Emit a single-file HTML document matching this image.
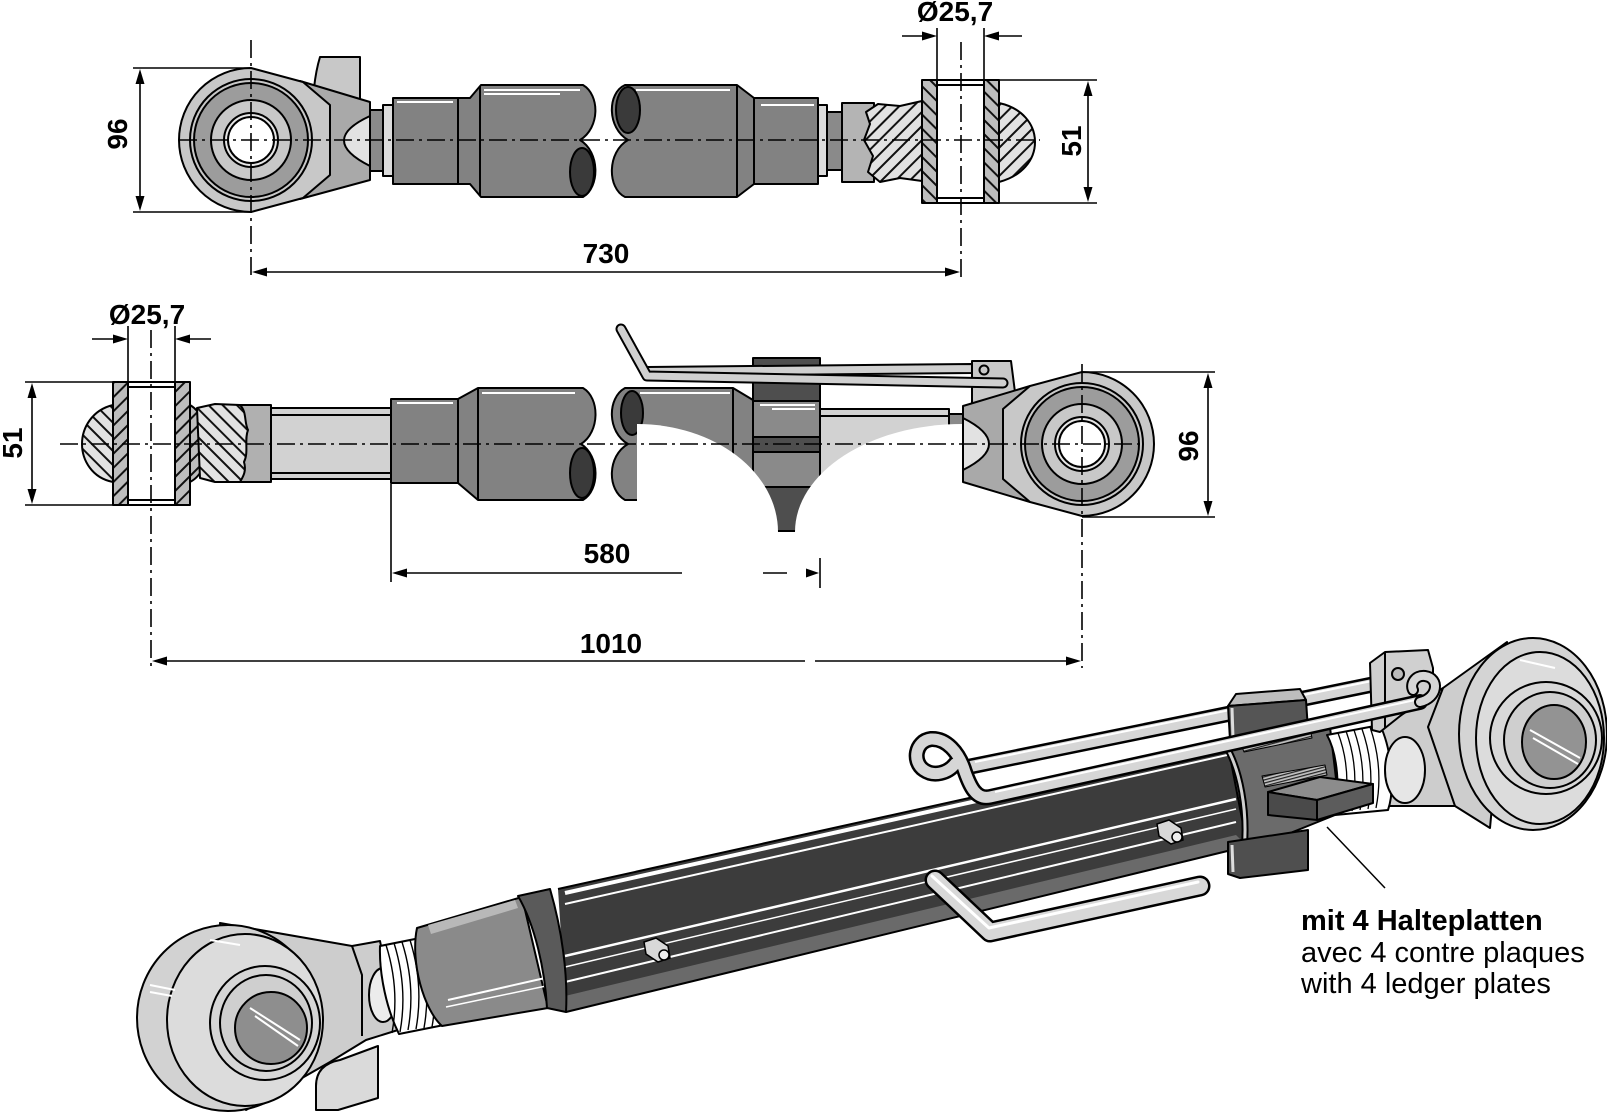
<!DOCTYPE html>
<html><head><meta charset="utf-8"><title>Oberlenker</title>
<style>
html,body{margin:0;padding:0;background:#fff;width:1607px;height:1112px;overflow:hidden}
svg{display:block}
</style></head><body>
<svg xmlns="http://www.w3.org/2000/svg" width="1607" height="1112" viewBox="0 0 1607 1112" font-family="'Liberation Sans', Arial, sans-serif">
<defs>
<pattern id="hb" patternUnits="userSpaceOnUse" width="10" height="10" patternTransform="rotate(-45)"><rect width="10" height="10" fill="#bdbdbd"/><rect width="2" height="10" fill="#111"/></pattern>
<pattern id="hf" patternUnits="userSpaceOnUse" width="10" height="10" patternTransform="rotate(45)"><rect width="10" height="10" fill="#bdbdbd"/><rect width="2" height="10" fill="#111"/></pattern>
<pattern id="hbl" patternUnits="userSpaceOnUse" width="10" height="10" patternTransform="rotate(-45)"><rect width="10" height="10" fill="#e2e2e2"/><rect width="2" height="10" fill="#111"/></pattern>
<pattern id="hfl" patternUnits="userSpaceOnUse" width="10" height="10" patternTransform="rotate(45)"><rect width="10" height="10" fill="#e2e2e2"/><rect width="2" height="10" fill="#111"/></pattern>
<pattern id="hs" patternUnits="userSpaceOnUse" width="3" height="3" patternTransform="rotate(75)"><rect width="3" height="3" fill="#c0c0c0"/><rect width="1.2" height="3" fill="#222"/></pattern>
</defs>
<rect width="1607" height="1112" fill="#fff"/>

<!-- ================= TOP VIEW ================= -->
<g stroke="#000" stroke-width="2" stroke-linejoin="round">
  <path d="M320,57 L360,57 L360,102 L314,88 Q316,70 320,57 Z" fill="#c8c8c8"/>
  <path d="M300,81 L370,102 L370,180 L300,199 Z" fill="#a9a9a9"/>
  <path d="M251,68 L303,82 L330,105 L330,175 L303,198 L251,212 A72,72 0 0 1 251,68 Z" fill="#c8c8c8"/>
  <path d="M370,116 Q318,140 370,166 Z" fill="#e2e2e2"/>
  <circle cx="251" cy="140" r="61" fill="#c8c8c8"/>
  <circle cx="251" cy="140" r="57" fill="#9c9c9c"/>
  <circle cx="251" cy="140" r="40" fill="#c8c8c8"/>
  <circle cx="251" cy="140" r="27" fill="#e6e6e6"/>
  <circle cx="251" cy="140" r="23" fill="#fff"/>
  <rect x="370" y="110" width="13" height="61" fill="#8a8a8a"/>
  <rect x="383" y="105" width="10" height="71" fill="#dcdcdc"/>
  <path d="M393,98 L470,98 L481,85 L583,85 C600,95 600,128 580,140 C600,152 600,187 583,197 L481,197 L470,184 L393,184 Z" fill="#828282"/>
  <ellipse cx="582" cy="172" rx="12" ry="24" fill="#3a3a3a"/>
  <line x1="458" y1="98" x2="458" y2="184"/>
  <line x1="480" y1="86" x2="480" y2="196"/>
  <path d="M625,85 L737,85 L754,98 L818,98 L818,184 L754,184 L737,197 L625,197 C607,188 607,152 628,140 C607,128 607,93 625,85 Z" fill="#828282"/>
  <ellipse cx="628" cy="110" rx="12" ry="23" fill="#3a3a3a"/>
  <line x1="737" y1="86" x2="737" y2="196"/>
  <line x1="754" y1="98" x2="754" y2="184"/>
  <rect x="818" y="105" width="9" height="71" fill="#dcdcdc"/>
  <rect x="827" y="112" width="15" height="58" fill="#8a8a8a"/>
  <rect x="842" y="103" width="32" height="79" fill="#b4b4b4"/>
  <path d="M866,112 L878,104 L900,106 L922,101 L922,181 L900,178 L880,182 L868,172 L873,156 L864,140 L870,124 Z" fill="url(#hfl)"/>
  <path d="M999,103 C1022,108 1035,124 1035,142 C1035,160 1022,176 999,182 Z" fill="url(#hfl)"/>
  <rect x="922" y="80" width="77" height="123" fill="url(#hb)"/>
  <rect x="937" y="80" width="47" height="123" fill="#fff"/>
  <line x1="937" y1="85" x2="984" y2="85"/>
  <line x1="937" y1="198" x2="984" y2="198"/>
</g>
<g stroke="#fff" stroke-width="2">
  <line x1="397" y1="102" x2="453" y2="102"/>
  <line x1="484" y1="90" x2="580" y2="90"/>
  <line x1="484" y1="94" x2="560" y2="94"/>
  <line x1="636" y1="90" x2="730" y2="90"/>
  <line x1="761" y1="105" x2="814" y2="105"/>
</g>
<!-- top dims -->
<g stroke="#000" stroke-width="1.6" fill="none">
  <line x1="133" y1="68" x2="251" y2="68"/>
  <line x1="133" y1="212" x2="251" y2="212"/>
  <line x1="140" y1="80" x2="140" y2="200"/>
  <line x1="999" y1="80" x2="1097" y2="80"/>
  <line x1="999" y1="203" x2="1097" y2="203"/>
  <line x1="1088" y1="92" x2="1088" y2="192"/>
  <line x1="937" y1="28" x2="937" y2="80"/>
  <line x1="984" y1="28" x2="984" y2="80"/>
  <line x1="902" y1="36" x2="925" y2="36"/>
  <line x1="1022" y1="36" x2="996" y2="36"/>
  <line x1="262" y1="272" x2="950" y2="272"/>
  <g stroke-dasharray="18 5 3 5">
    <line x1="179" y1="140" x2="1040" y2="140"/>
    <line x1="251" y1="40" x2="251" y2="280"/>
    <line x1="961" y1="42" x2="961" y2="282"/>
  </g>
</g>
<g fill="#000">
  <polygon points="140,69 135.5,84 144.5,84"/>
  <polygon points="140,211 135.5,196 144.5,196"/>
  <polygon points="1088,81 1083.5,96 1092.5,96"/>
  <polygon points="1088,202 1083.5,187 1092.5,187"/>
  <polygon points="937,36 922,31.5 922,40.5"/>
  <polygon points="984,36 999,31.5 999,40.5"/>
  <polygon points="252,272 267,267.5 267,276.5"/>
  <polygon points="960,272 945,267.5 945,276.5"/>
</g>
<g font-weight="bold" font-size="28" fill="#000" text-anchor="middle">
  <text x="955" y="21">Ø25,7</text>
  <text x="606" y="263">730</text>
  <text transform="translate(127,134) rotate(-90)">96</text>
  <text transform="translate(1081,141) rotate(-90)">51</text>
</g>

<!-- ================= MIDDLE VIEW ================= -->
<g stroke="#000" stroke-width="2" stroke-linejoin="round">
  <path d="M113,405 C92,410 82,428 82,444 C82,460 92,478 113,482 Z" fill="url(#hbl)"/>
  <path d="M190,405 C202,412 208,428 208,444 C208,460 202,476 190,482 Z" fill="url(#hf)"/>
  <rect x="240" y="405" width="31" height="77" fill="#b0b0b0"/>
  <path d="M197,408 L215,404 L240,405 C247,412 244,422 248,430 C244,440 249,452 244,462 C247,472 242,478 240,482 L215,482 L200,478 Z" fill="url(#hbl)"/>
  <rect x="113" y="382" width="77" height="123" fill="url(#hf)"/>
  <rect x="128" y="382" width="47" height="123" fill="#fff"/>
  <line x1="128" y1="387" x2="175" y2="387"/>
  <line x1="128" y1="500" x2="175" y2="500"/>
  <rect x="271" y="408" width="121" height="71" fill="#d2d2d2"/>
  <line x1="271" y1="415" x2="392" y2="415"/>
  <line x1="271" y1="473" x2="392" y2="473"/>
  <path d="M391,399 L458,399 L478,388 L583,388 C600,398 600,432 581,444 C600,456 600,490 583,500 L478,500 L458,483 L391,483 Z" fill="#828282"/>
  <ellipse cx="582" cy="473" rx="12" ry="25" fill="#3a3a3a"/>
  <line x1="458" y1="399" x2="458" y2="483"/>
  <line x1="478" y1="389" x2="478" y2="499"/>
  <path d="M625,388 L733,388 L753,400 L800,400 L800,484 L753,484 L733,500 L625,500 C607,490 607,456 628,444 C607,432 607,398 625,388 Z" fill="#828282"/>
  <ellipse cx="632" cy="413" rx="11" ry="22" fill="#3a3a3a"/>
  <line x1="733" y1="389" x2="733" y2="499"/>
  <rect x="820" y="409" width="129" height="70" fill="#d2d2d2"/>
  <line x1="820" y1="416" x2="949" y2="416"/>
  <rect x="949" y="414" width="14" height="60" fill="#8a8a8a"/>
  <rect x="753" y="358" width="67" height="43" fill="#4e4e4e"/>
  <rect x="753" y="401" width="67" height="36" fill="#8a8a8a"/>
  <rect x="753" y="437" width="67" height="15" fill="#4e4e4e"/>
  <rect x="753" y="452" width="67" height="35" fill="#8a8a8a"/>
  <rect x="753" y="487" width="67" height="44" fill="#4e4e4e"/>
</g>
<g stroke="#fff" stroke-width="2">
  <line x1="397" y1="403" x2="453" y2="403"/>
  <line x1="482" y1="393" x2="575" y2="393"/>
  <line x1="640" y1="393" x2="730" y2="393"/>
  <line x1="760" y1="405" x2="815" y2="405"/>
  <line x1="772" y1="409" x2="815" y2="409"/>
</g>
<path d="M637,424 A141,108 0 0 1 778,532 L778,548 L637,548 Z" fill="#fff"/>
<path d="M962,424 A167,108 0 0 0 795,532 L795,548 L962,548 Z" fill="#fff"/>
<g stroke="#000" stroke-width="2" stroke-linejoin="round">
  <polygon points="648,367 972,364 972,373 648,376" fill="#d0d0d0"/>
  <path d="M972,361 L1011,361 L1016,400 L972,410 Z" fill="#c8c8c8"/>
  <circle cx="984" cy="370" r="4.5" fill="#c8c8c8"/>
</g>
<path d="M621,329 L647,376 L1003,383" fill="none" stroke="#000" stroke-width="11" stroke-linecap="round" stroke-linejoin="round"/>
<path d="M621,329 L647,376 L1003,383" fill="none" stroke="#d0d0d0" stroke-width="7" stroke-linecap="round" stroke-linejoin="round"/>
<g stroke="#000" stroke-width="2" stroke-linejoin="round">
  <path d="M1030,386 L963,406 L963,482 L1030,502 Z" fill="#a9a9a9"/>
  <path d="M1082,372 L1030,386 L1003,409 L1003,479 L1030,502 L1082,516 A72,72 0 0 0 1082,372 Z" fill="#c8c8c8"/>
  <path d="M963,418 Q1015,444 963,470 Z" fill="#e2e2e2"/>
  <circle cx="1082" cy="444" r="61" fill="#c8c8c8"/>
  <circle cx="1082" cy="444" r="57" fill="#9c9c9c"/>
  <circle cx="1082" cy="444" r="40" fill="#c8c8c8"/>
  <circle cx="1082" cy="444" r="27" fill="#e6e6e6"/>
  <circle cx="1082" cy="444" r="23" fill="#fff"/>
</g>
<g stroke="#000" stroke-width="1.6" fill="none">
  <line x1="128" y1="326" x2="128" y2="382"/>
  <line x1="175" y1="326" x2="175" y2="382"/>
  <line x1="92" y1="339" x2="116" y2="339"/>
  <line x1="211" y1="339" x2="187" y2="339"/>
  <line x1="25" y1="382" x2="113" y2="382"/>
  <line x1="25" y1="505" x2="113" y2="505"/>
  <line x1="32" y1="394" x2="32" y2="493"/>
  <line x1="1082" y1="372" x2="1215" y2="372"/>
  <line x1="1082" y1="517" x2="1215" y2="517"/>
  <line x1="1208" y1="384" x2="1208" y2="505"/>
  <line x1="391" y1="484" x2="391" y2="582"/>
  <line x1="820" y1="558" x2="820" y2="588"/>
  <line x1="403" y1="573" x2="682" y2="573"/>
  <line x1="763" y1="573" x2="787" y2="573"/>
  <line x1="163" y1="661" x2="805" y2="661"/>
  <line x1="815" y1="661" x2="1070" y2="661"/>
  <g stroke-dasharray="18 5 3 5">
    <line x1="60" y1="444" x2="1140" y2="444"/>
    <line x1="151" y1="330" x2="151" y2="668"/>
    <line x1="1082" y1="364" x2="1082" y2="668"/>
  </g>
</g>
<g fill="#000">
  <polygon points="128,339 113,334.5 113,343.5"/>
  <polygon points="175,339 190,334.5 190,343.5"/>
  <polygon points="32,383 27.5,398 36.5,398"/>
  <polygon points="32,504 27.5,489 36.5,489"/>
  <polygon points="1208,373 1203.5,388 1212.5,388"/>
  <polygon points="1208,516 1203.5,501 1212.5,501"/>
  <polygon points="392,573 407,568.5 407,577.5"/>
  <polygon points="819,573 806,568.5 806,577.5"/>
  <polygon points="152,661 167,656.5 167,665.5"/>
  <polygon points="1081,661 1066,656.5 1066,665.5"/>
</g>
<g font-weight="bold" font-size="28" fill="#000" text-anchor="middle">
  <text x="147" y="324">Ø25,7</text>
  <text x="607" y="563">580</text>
  <text x="611" y="653">1010</text>
  <text transform="translate(22,443) rotate(-90)">51</text>
  <text transform="translate(1198,446) rotate(-90)">96</text>
</g>

<!-- ================= 3D VIEW ================= -->
<g stroke="#000" stroke-width="2" stroke-linejoin="round">
  <path d="M316,1110 L316,1086 C316,1072 324,1063 340,1060 L378,1046 L378,1098 L338,1110 Z" fill="#dadada"/>
  <path d="M220,923 L352,946 L380,941 L398,1030 L366,1040 L330,1062 L246,1110 Z" fill="#cdcdcd"/>
  <ellipse cx="228" cy="1018" rx="91" ry="93" fill="#d2d2d2"/>
  <ellipse cx="245" cy="1020" rx="78" ry="86" fill="#dcdcdc"/>
  <path d="M352,946 L362,975 L362,1036" fill="none"/>
  <ellipse cx="383" cy="995" rx="14" ry="27" fill="#ececec"/>
  <ellipse cx="265" cy="1023" rx="55" ry="57" fill="#d6d6d6"/>
  <ellipse cx="266" cy="1023" rx="46" ry="48" fill="#cfcfcf"/>
  <ellipse cx="271" cy="1028" rx="36" ry="36" fill="#8e8e8e"/>
  <path d="M380,946 L455,931 L459,1022 L399,1034 C387,1010 379,975 380,946 Z" fill="#fff"/>
</g>
<g stroke="#000" stroke-width="1.4" fill="none">
  <path d="M386,945 Q400,989 392,1033"/>
  <path d="M394,943 Q408,988 400,1032"/>
  <path d="M402,942 Q416,986 408,1030"/>
  <path d="M410,940 Q424,985 416,1029"/>
  <path d="M418,938 Q432,983 424,1028"/>
  <path d="M426,937 Q440,982 432,1027"/>
  <path d="M434,935 Q448,980 440,1025"/>
  <path d="M442,934 Q456,979 448,1024"/>
</g>
<g stroke="#fff" stroke-width="2" fill="none">
  <line x1="150" y1="985" x2="175" y2="990"/>
  <line x1="150" y1="992" x2="172" y2="996"/>
  <line x1="250" y1="1008" x2="300" y2="1040"/>
  <line x1="255" y1="1016" x2="298" y2="1046"/>
  <line x1="210" y1="940" x2="240" y2="945"/>
</g>
<g stroke="#000" stroke-width="2" stroke-linejoin="round">
  <path d="M417,928 L522,897 L548,1008 L442,1026 C424,1010 410,962 417,928 Z" fill="#8a8a8a"/>
  <polygon points="428,925 515,900 518,908 431,934" fill="#b8b8b8" stroke="none"/>
  <path d="M558,889 L1240,738 L1248,846 L566,1012 Z" fill="#3c3c3c" stroke="none"/>
  <polygon points="565,996 1236,835 1247,846 566,1012" fill="#6a6a6a" stroke="none"/>
</g>
<g stroke="#fff" fill="none">
  <line x1="565" y1="893" x2="1236" y2="743" stroke-width="4"/>
  <line x1="565" y1="904" x2="1236" y2="753" stroke-width="2"/>
  <line x1="565" y1="956" x2="1236" y2="799" stroke-width="2.5"/>
  <line x1="565" y1="967" x2="1236" y2="809" stroke-width="1.5"/>
  <line x1="565" y1="982" x2="1236" y2="822" stroke-width="2"/>
  <line x1="448" y1="1000" x2="545" y2="978" stroke-width="2"/>
  <line x1="446" y1="1007" x2="546" y2="986" stroke-width="1.5"/>
</g>
<g stroke="#000" stroke-width="2" stroke-linejoin="round" fill="none">
  <path d="M558,889 L1240,738 L1248,846 L566,1012"/>
  <path d="M518,896 L550,889 C562,930 568,975 566,1012 L547,1008 C545,970 535,925 518,896 Z" fill="#5a5a5a"/>
</g>
<g stroke="#000" stroke-width="1.5">
  <polygon points="644,942 656,938 668,946 670,958 658,962 646,954" fill="#d8d8d8"/>
  <circle cx="664" cy="955" r="5" fill="#eee"/>
  <polygon points="1157,824 1169,820 1181,828 1183,840 1171,844 1159,836" fill="#d8d8d8"/>
  <circle cx="1177" cy="837" r="5" fill="#eee"/>
</g>
<path d="M935,880 L990,932 L1200,886" fill="none" stroke="#000" stroke-width="21" stroke-linecap="round" stroke-linejoin="round"/>
<path d="M935,880 L990,932 L1200,886" fill="none" stroke="#d8d8d8" stroke-width="16" stroke-linecap="round" stroke-linejoin="round"/>
<path d="M932,876 L989,928 L1198,882" fill="none" stroke="#fff" stroke-width="3" stroke-linecap="round" stroke-linejoin="round"/>

<g stroke="#000" stroke-width="2" stroke-linejoin="round">
  <polygon points="1228,746 1330,727 1340,813 1248,850" fill="#6b6b6b"/>
  <polygon points="1240,742 1310,728 1312,738 1244,752" fill="url(#hs)" stroke-width="1"/>
  <polygon points="1262,776 1325,765 1327,775 1265,787" fill="url(#hs)" stroke-width="1"/>
  <path d="M1375,732 L1443,688 L1507,642 L1490,828 L1455,806 L1388,806 Z" fill="#cdcdcd"/>
  <path d="M1327,735 L1380,725 C1392,750 1395,790 1388,810 L1335,815 C1340,790 1338,755 1327,735 Z" fill="#fff"/>
  <ellipse cx="1533" cy="734" rx="74" ry="96" fill="#d4d4d4"/>
  <ellipse cx="1540" cy="738" rx="64" ry="86" fill="#dcdcdc"/>
  <path d="M1443,688 L1428,727 L1455,806" fill="none"/>
  <ellipse cx="1405" cy="770" rx="20" ry="33" fill="#e6e6e6"/>
  <ellipse cx="1546" cy="738" rx="56" ry="56" fill="#d8d8d8"/>
  <ellipse cx="1550" cy="740" rx="46" ry="48" fill="#cfcfcf"/>
  <ellipse cx="1554" cy="742" rx="32" ry="37" fill="#939393"/>
</g>
<g stroke="#000" stroke-width="1.3" fill="none">
  <path d="M1338,733 Q1352,770 1344,812"/>
  <path d="M1346,731 Q1360,770 1352,811"/>
  <path d="M1354,730 Q1368,770 1360,810"/>
  <path d="M1362,729 Q1376,769 1368,809"/>
  <path d="M1370,727 Q1384,768 1376,808"/>
</g>
<path d="M1226,746 C1240,770 1248,810 1244,852" fill="none" stroke="#000" stroke-width="7"/>
<path d="M1226,746 C1240,770 1248,810 1244,852" fill="none" stroke="#cfcfcf" stroke-width="3"/>
<g stroke="#fff" stroke-width="2">
  <line x1="1530" y1="730" x2="1580" y2="758"/>
  <line x1="1533" y1="738" x2="1578" y2="764"/>
  <line x1="1520" y1="660" x2="1555" y2="668"/>
</g>
<path d="M968,767 L1375,684" fill="none" stroke="#000" stroke-width="16" stroke-linecap="round"/>
<path d="M968,767 L1375,684" fill="none" stroke="#d6d6d6" stroke-width="11" stroke-linecap="round"/>
<path d="M975,762 L1372,681" fill="none" stroke="#fff" stroke-width="2"/>
<g stroke="#000" stroke-width="2" stroke-linejoin="round">
  <path d="M1370,663 L1385,652 L1428,650 L1433,668 L1433,690 L1380,732 L1372,730 Z" fill="#d0d0d0"/>
  <path d="M1385,652 L1385,728" fill="none"/>
  <circle cx="1398" cy="674" r="6" fill="#bbb"/>
  <polygon points="1228,706 1236,694 1300,689 1306,700" fill="#bdbdbd"/>
  <polygon points="1228,706 1306,700 1308,730 1230,740" fill="#555"/>
  <polygon points="1228,842 1308,830 1308,870 1240,878 1228,874" fill="#4f4f4f"/>
  <polygon points="1268,792 1320,777 1373,784 1317,800" fill="#8c8c8c"/>
  <polygon points="1268,792 1317,800 1317,820 1268,815" fill="#4a4a4a"/>
  <polygon points="1317,800 1373,784 1373,803 1317,820" fill="#5c5c5c"/>
</g>
<g stroke="#ddd" stroke-width="3">
  <line x1="1232" y1="708" x2="1233" y2="738"/>
  <line x1="1232" y1="845" x2="1233" y2="872"/>
</g>
<path d="M1420,702 L990,797 C976,800 970,786 965,772 C959,752 946,738 931,739 C915,741 912,762 924,770 C934,777 948,773 955,764" fill="none" stroke="#000" stroke-width="16" stroke-linecap="round" stroke-linejoin="round"/>
<path d="M1420,702 L990,797 C976,800 970,786 965,772 C959,752 946,738 931,739 C915,741 912,762 924,770 C934,777 948,773 955,764" fill="none" stroke="#d6d6d6" stroke-width="11" stroke-linecap="round" stroke-linejoin="round"/>
<path d="M1415,700 L995,792" fill="none" stroke="#fff" stroke-width="2"/>
<path d="M1420,702 C1438,698 1440,678 1425,676 C1415,675 1410,684 1413,690" fill="none" stroke="#000" stroke-width="12" stroke-linecap="round"/>
<path d="M1420,702 C1438,698 1440,678 1425,676 C1415,675 1410,684 1413,690" fill="none" stroke="#d6d6d6" stroke-width="8" stroke-linecap="round"/>

<line x1="1327" y1="827" x2="1385" y2="888" stroke="#000" stroke-width="1.5"/>

<g font-size="29" fill="#000">
  <text x="1301" y="930" font-weight="bold">mit 4 Halteplatten</text>
  <text x="1301" y="962">avec 4 contre plaques</text>
  <text x="1301" y="993">with 4 ledger plates</text>
</g>
</svg>
</body></html>
